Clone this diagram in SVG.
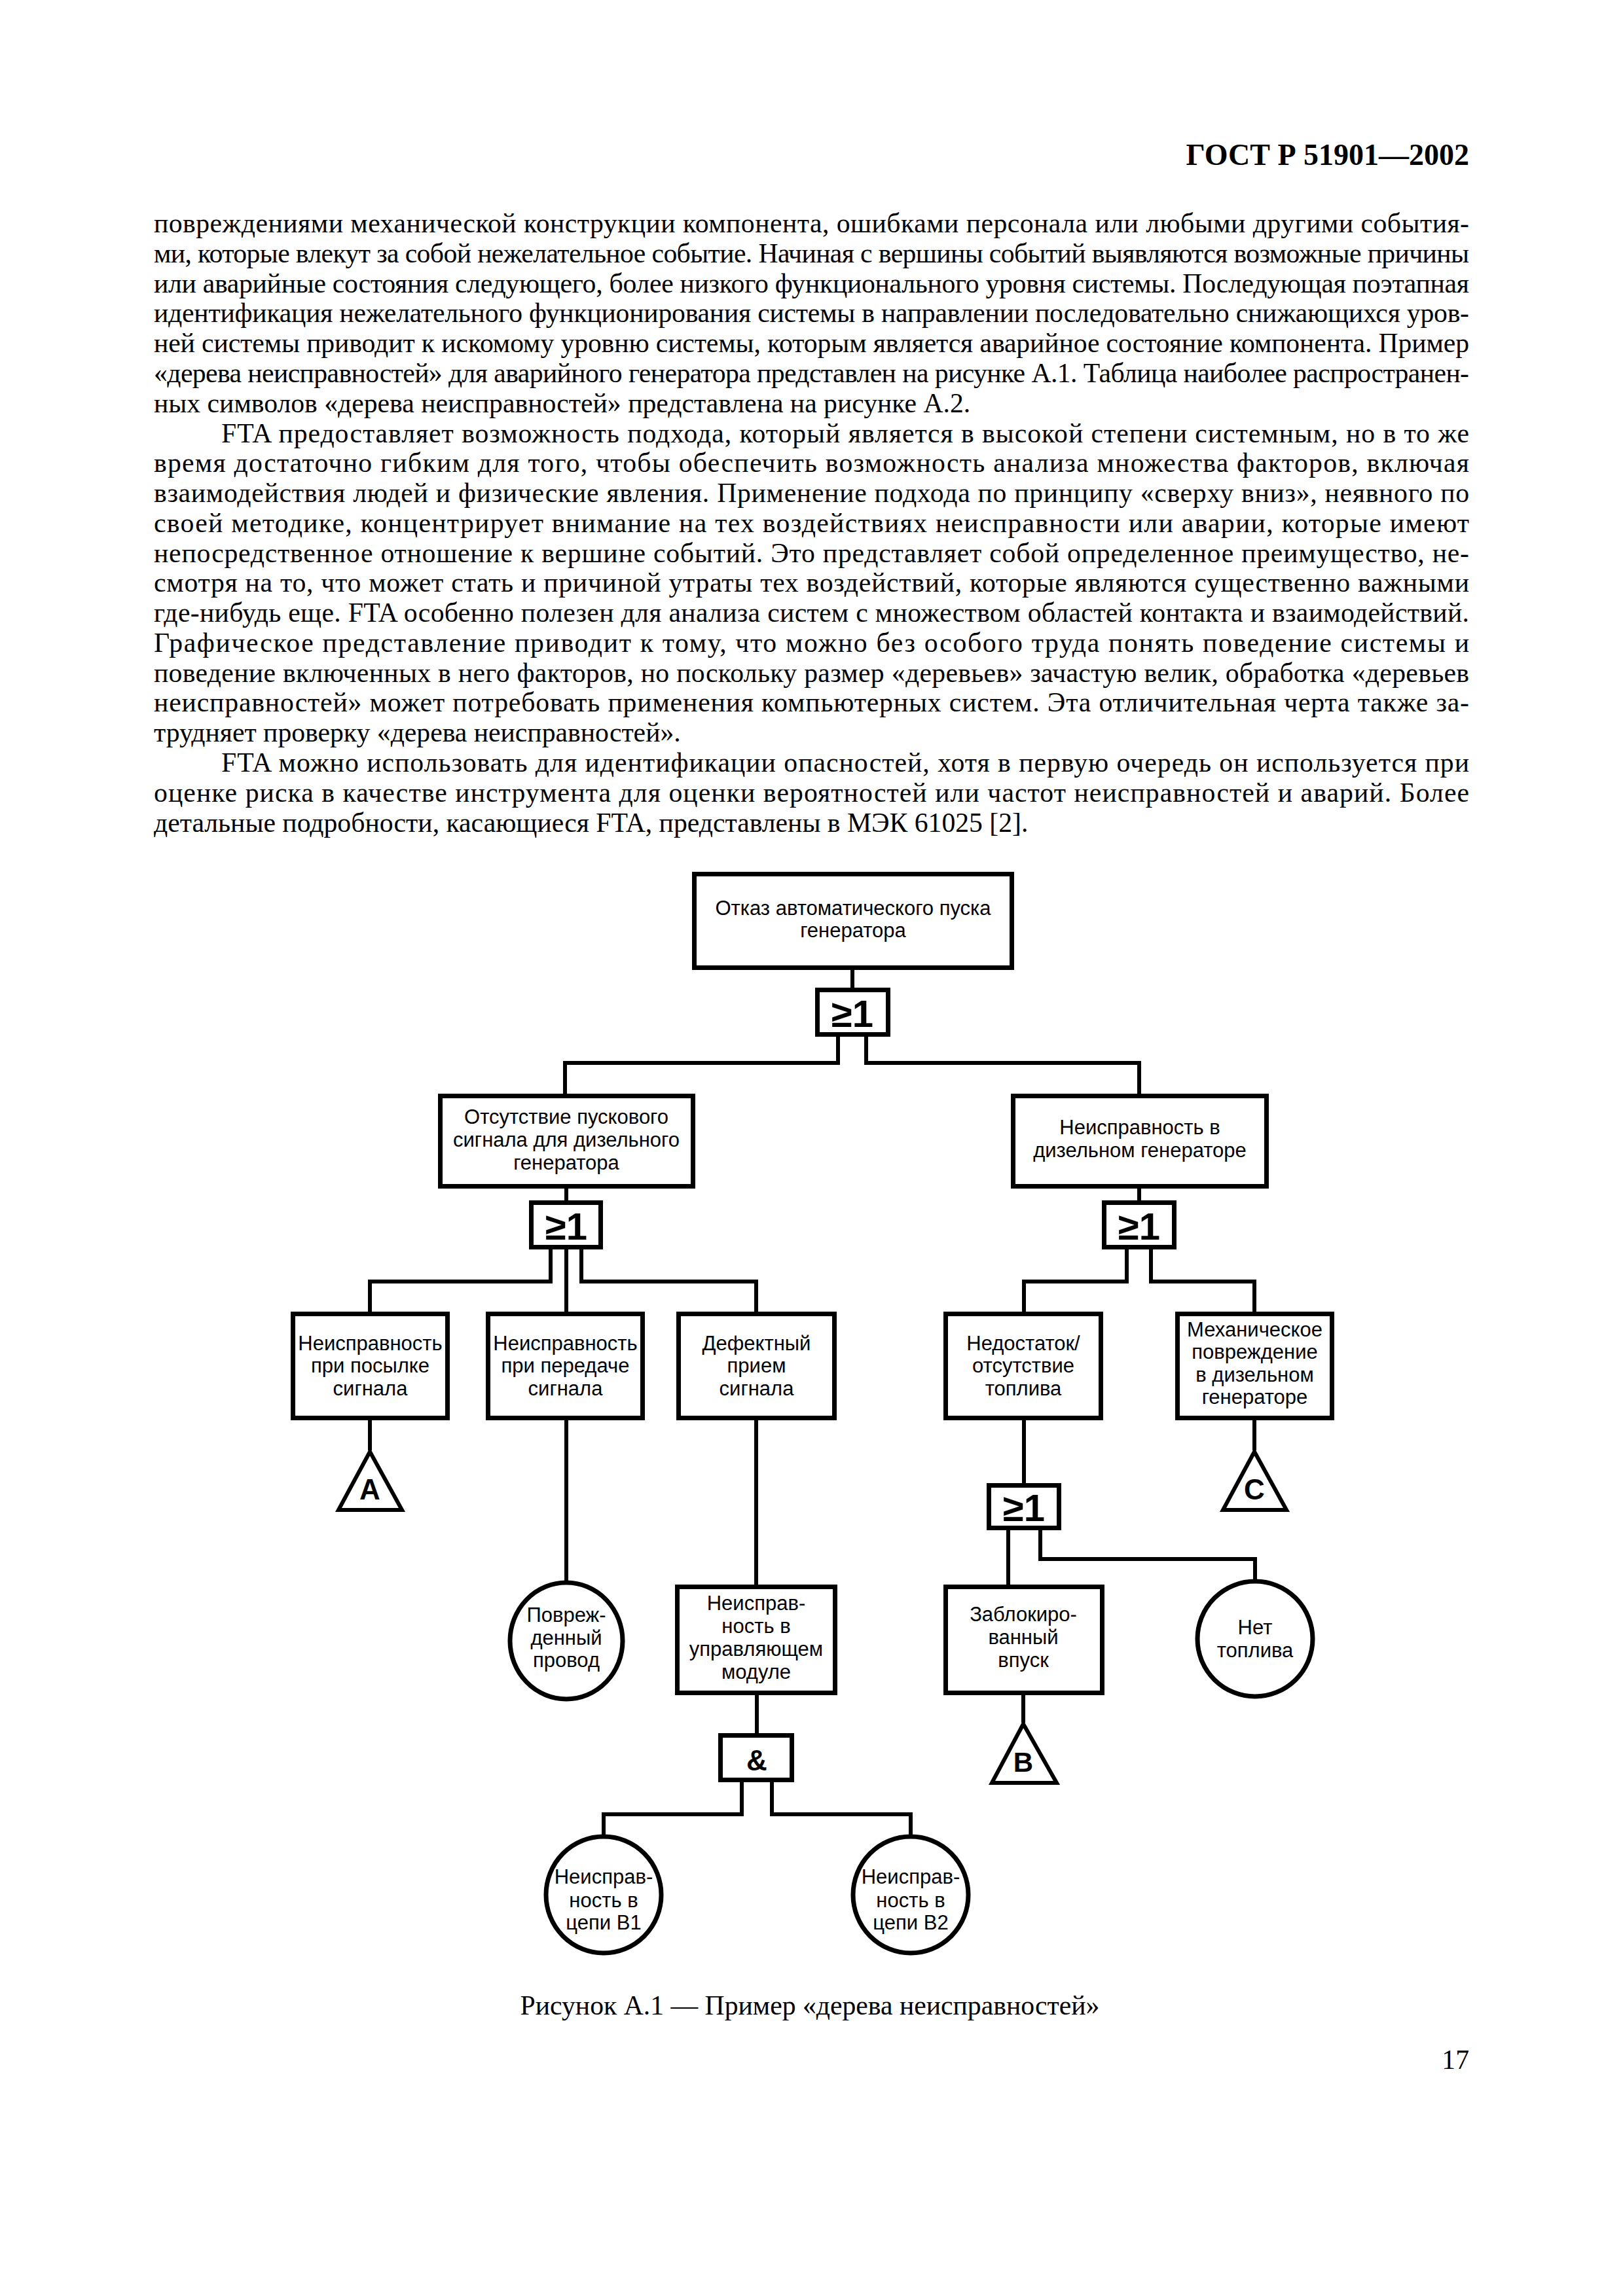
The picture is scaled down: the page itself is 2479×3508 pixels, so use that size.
<svg xmlns="http://www.w3.org/2000/svg" width="2479" height="3508" viewBox="0 0 2479 3508">
<style>
.bg{fill:#fff}
.body{font-family:"Liberation Serif","Times New Roman",serif;font-size:41.7px;fill:#000}
.hdr{font-family:"Liberation Serif","Times New Roman",serif;font-size:46px;font-weight:bold;fill:#000}
.box{fill:#fff;stroke:#000;stroke-width:7}
.gate{fill:#fff;stroke:#000;stroke-width:7}
.ell{fill:#fff;stroke:#000;stroke-width:7}
.tri{fill:#fff;stroke:#000;stroke-width:6;stroke-linejoin:miter}
.lbl{font-family:"Liberation Sans",Arial,sans-serif;font-size:31px;fill:#000;text-anchor:middle}
.g{font-family:"Liberation Sans",Arial,sans-serif;font-size:58px;font-weight:bold;fill:#000;text-anchor:middle}
.t{font-family:"Liberation Sans",Arial,sans-serif;font-size:44px;font-weight:bold;fill:#000;text-anchor:middle}
.con{fill:none;stroke:#000;stroke-width:6;stroke-linejoin:miter;stroke-linecap:butt}
</style>
<rect class="bg" x="0" y="0" width="2479" height="3508"/>

<g id="page-text">
<text class="hdr" x="2244" y="252" text-anchor="end">ГОСТ Р 51901—2002</text>
<text class="body" x="235" y="355" textLength="2009" lengthAdjust="spacing">повреждениями механической конструкции компонента, ошибками персонала или любыми другими события-</text>
<text class="body" x="235" y="401" textLength="2009" lengthAdjust="spacing">ми, которые влекут за собой нежелательное событие. Начиная с вершины событий выявляются возможные причины</text>
<text class="body" x="235" y="447" textLength="2009" lengthAdjust="spacing">или аварийные состояния следующего, более низкого функционального уровня системы. Последующая поэтапная</text>
<text class="body" x="235" y="492" textLength="2009" lengthAdjust="spacing">идентификация нежелательного функционирования системы в направлении последовательно снижающихся уров-</text>
<text class="body" x="235" y="538" textLength="2009" lengthAdjust="spacing">ней системы приводит к искомому уровню системы, которым является аварийное состояние компонента. Пример</text>
<text class="body" x="235" y="584" textLength="2009" lengthAdjust="spacing">«дерева неисправностей» для аварийного генератора представлен на рисунке А.1. Таблица наиболее распространен-</text>
<text class="body" x="235" y="630">ных символов «дерева неисправностей» представлена на рисунке А.2.</text>
<text class="body" x="338" y="676" textLength="1906" lengthAdjust="spacing">FTA предоставляет возможность подхода, который является в высокой степени системным, но в то же</text>
<text class="body" x="235" y="721" textLength="2009" lengthAdjust="spacing">время достаточно гибким для того, чтобы обеспечить возможность анализа множества факторов, включая</text>
<text class="body" x="235" y="767" textLength="2009" lengthAdjust="spacing">взаимодействия людей и физические явления. Применение подхода по принципу «сверху вниз», неявного по</text>
<text class="body" x="235" y="813" textLength="2009" lengthAdjust="spacing">своей методике, концентрирует внимание на тех воздействиях неисправности или аварии, которые имеют</text>
<text class="body" x="235" y="859" textLength="2009" lengthAdjust="spacing">непосредственное отношение к вершине событий. Это представляет собой определенное преимущество, не-</text>
<text class="body" x="235" y="904" textLength="2009" lengthAdjust="spacing">смотря на то, что может стать и причиной утраты тех воздействий, которые являются существенно важными</text>
<text class="body" x="235" y="950" textLength="2009" lengthAdjust="spacing">где-нибудь еще. FTA особенно полезен для анализа систем с множеством областей контакта и взаимодействий.</text>
<text class="body" x="235" y="996" textLength="2009" lengthAdjust="spacing">Графическое представление приводит к тому, что можно без особого труда понять поведение системы и</text>
<text class="body" x="235" y="1042" textLength="2009" lengthAdjust="spacing">поведение включенных в него факторов, но поскольку размер «деревьев» зачастую велик, обработка «деревьев</text>
<text class="body" x="235" y="1087" textLength="2009" lengthAdjust="spacing">неисправностей» может потребовать применения компьютерных систем. Эта отличительная черта также за-</text>
<text class="body" x="235" y="1133">трудняет проверку «дерева неисправностей».</text>
<text class="body" x="338" y="1179" textLength="1906" lengthAdjust="spacing">FTA можно использовать для идентификации опасностей, хотя в первую очередь он используется при</text>
<text class="body" x="235" y="1225" textLength="2009" lengthAdjust="spacing">оценке риска в качестве инструмента для оценки вероятностей или частот неисправностей и аварий. Более</text>
<text class="body" x="235" y="1271">детальные подробности, касающиеся FTA, представлены в МЭК 61025 [2].</text>
<text class="body" x="1237" y="3078" text-anchor="middle">Рисунок А.1 — Пример «дерева неисправностей»</text>
<text class="body" x="2244" y="3161" text-anchor="end">17</text>
</g>

<g id="connectors">
<path class="con" d="M1302,1482 V1509"/>
<path class="con" d="M1280,1584 V1624 H863 V1671"/>
<path class="con" d="M1323,1584 V1624 H1740 V1671"/>
<path class="con" d="M865,1816 V1834"/>
<path class="con" d="M1740,1816 V1834"/>
<path class="con" d="M841,1909 V1958 H565 V2004"/>
<path class="con" d="M865,1909 V2004"/>
<path class="con" d="M888,1909 V1958 H1155 V2004"/>
<path class="con" d="M1721,1909 V1958 H1564 V2004"/>
<path class="con" d="M1758,1909 V1958 H1916 V2004"/>
<path class="con" d="M565,2170 V2216"/>
<path class="con" d="M865,2170 V2416"/>
<path class="con" d="M1155,2170 V2421"/>
<path class="con" d="M1564,2170 V2266"/>
<path class="con" d="M1916,2170 V2216"/>
<path class="con" d="M1540,2338 V2421"/>
<path class="con" d="M1589,2338 V2382 H1917 V2414"/>
<path class="con" d="M1563,2590 V2632"/>
<path class="con" d="M1156,2590 V2648"/>
<path class="con" d="M1133,2723 V2772 H922 V2805"/>
<path class="con" d="M1179,2723 V2772 H1391 V2805"/>
</g>

<g id="n-top">
<rect class="box" x="1060.5" y="1335.5" width="485" height="143"/>
<text class="lbl" x="1303" y="1398">Отказ автоматического пуска</text>
<text class="lbl" x="1303" y="1432">генератора</text>
</g>
<g id="g-or1">
<rect class="gate" x="1248.5" y="1512.5" width="108" height="68"/>
<text class="g" x="1302" y="1569">≥1</text>
</g>
<g id="n-nosignal">
<rect class="box" x="672.5" y="1674.5" width="386" height="138"/>
<text class="lbl" x="865" y="1717">Отсутствие пускового</text>
<text class="lbl" x="865" y="1752">сигнала для дизельного</text>
<text class="lbl" x="865" y="1787">генератора</text>
</g>
<g id="n-dgfault">
<rect class="box" x="1547.5" y="1674.5" width="387" height="138"/>
<text class="lbl" x="1741" y="1733">Неисправность в</text>
<text class="lbl" x="1741" y="1768">дизельном генераторе</text>
</g>
<g id="g-or2">
<rect class="gate" x="811.5" y="1837.5" width="106" height="68"/>
<text class="g" x="865" y="1894">≥1</text>
</g>
<g id="g-or3">
<rect class="gate" x="1686.5" y="1837.5" width="107" height="68"/>
<text class="g" x="1740" y="1894">≥1</text>
</g>
<g id="n-send">
<rect class="box" x="447.5" y="2007.5" width="236" height="159"/>
<text class="lbl" x="565.5" y="2063">Неисправность</text>
<text class="lbl" x="565.5" y="2097">при посылке</text>
<text class="lbl" x="565.5" y="2132">сигнала</text>
</g>
<g id="n-transmit">
<rect class="box" x="745.5" y="2007.5" width="236" height="159"/>
<text class="lbl" x="863.5" y="2063">Неисправность</text>
<text class="lbl" x="863.5" y="2097">при передаче</text>
<text class="lbl" x="863.5" y="2132">сигнала</text>
</g>
<g id="n-receive">
<rect class="box" x="1036.5" y="2007.5" width="238" height="159"/>
<text class="lbl" x="1155.5" y="2063">Дефектный</text>
<text class="lbl" x="1155.5" y="2097">прием</text>
<text class="lbl" x="1155.5" y="2132">сигнала</text>
</g>
<g id="n-fuel">
<rect class="box" x="1444.5" y="2007.5" width="237" height="159"/>
<text class="lbl" x="1563" y="2063">Недостаток/</text>
<text class="lbl" x="1563" y="2097">отсутствие</text>
<text class="lbl" x="1563" y="2132">топлива</text>
</g>
<g id="n-mech">
<rect class="box" x="1798.5" y="2007.5" width="236" height="159"/>
<text class="lbl" x="1916.5" y="2042">Механическое</text>
<text class="lbl" x="1916.5" y="2076">повреждение</text>
<text class="lbl" x="1916.5" y="2111">в дизельном</text>
<text class="lbl" x="1916.5" y="2145">генераторе</text>
</g>
<g id="t-a">
<polygon class="tri" points="565,2218 517,2307 614,2307"/>
<text class="t" x="565" y="2291">A</text>
</g>
<g id="t-c">
<polygon class="tri" points="1916,2218 1868,2307 1965,2307"/>
<text class="t" x="1916" y="2291">C</text>
</g>
<g id="g-or4">
<rect class="gate" x="1510.5" y="2269.5" width="107" height="65"/>
<text class="g" x="1564" y="2324">≥1</text>
</g>
<g id="n-wire">
<ellipse class="ell" cx="865" cy="2507" rx="86" ry="89"/>
<text class="lbl" x="865" y="2478">Повреж-</text>
<text class="lbl" x="865" y="2513">денный</text>
<text class="lbl" x="865" y="2547">провод</text>
</g>
<g id="n-module">
<rect class="box" x="1034.5" y="2424.5" width="241" height="162"/>
<text class="lbl" x="1155" y="2460">Неисправ-</text>
<text class="lbl" x="1155" y="2495">ность в</text>
<text class="lbl" x="1155" y="2530">управляющем</text>
<text class="lbl" x="1155" y="2565">модуле</text>
</g>
<g id="n-blocked">
<rect class="box" x="1444.5" y="2424.5" width="239" height="162"/>
<text class="lbl" x="1563" y="2477">Заблокиро-</text>
<text class="lbl" x="1563" y="2512">ванный</text>
<text class="lbl" x="1563" y="2547">впуск</text>
</g>
<g id="n-nofuel">
<ellipse class="ell" cx="1917" cy="2504" rx="88" ry="88"/>
<text class="lbl" x="1917" y="2497">Нет</text>
<text class="lbl" x="1917" y="2532">топлива</text>
</g>
<g id="t-b">
<polygon class="tri" points="1563,2634 1515,2724 1614,2724"/>
<text class="t" x="1563" y="2707" style="font-size:42px">B</text>
</g>
<g id="g-and">
<rect class="gate" x="1100.5" y="2651.5" width="109" height="68"/>
<text class="t" x="1156" y="2705">&amp;</text>
</g>
<g id="n-b1">
<ellipse class="ell" cx="922" cy="2895" rx="88" ry="89"/>
<text class="lbl" x="922" y="2878">Неисправ-</text>
<text class="lbl" x="922" y="2914">ность в</text>
<text class="lbl" x="922" y="2948">цепи В1</text>
</g>
<g id="n-b2">
<ellipse class="ell" cx="1391" cy="2895" rx="88" ry="89"/>
<text class="lbl" x="1391" y="2878">Неисправ-</text>
<text class="lbl" x="1391" y="2914">ность в</text>
<text class="lbl" x="1391" y="2948">цепи В2</text>
</g>
</svg>
